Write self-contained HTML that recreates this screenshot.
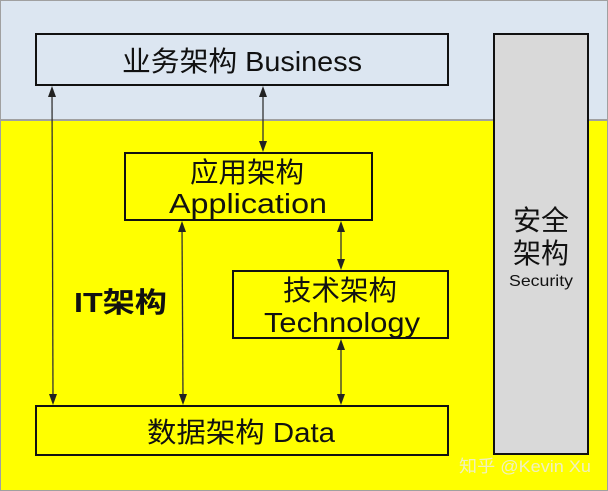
<!DOCTYPE html>
<html><head><meta charset="utf-8"><style>
body{margin:0;width:608px;height:491px;overflow:hidden}
svg{display:block}
text{font-family:"Liberation Sans","Noto Sans CJK SC",sans-serif;fill:#111}
</style></head><body>
<svg width="608" height="491" viewBox="0 0 608 491">
<rect x="0" y="0" width="608" height="491" fill="#ffff00"/>
<rect x="0" y="0" width="608" height="120" fill="#dce6f1"/>
<line x1="0" y1="120" x2="608" y2="120" stroke="#a0a0a0" stroke-width="2"/>
<rect x="0.5" y="0.5" width="607" height="490" fill="none" stroke="#a0a0a0"/>
<rect x="36" y="34" width="412" height="51" fill="#dce6f1" stroke="#111" stroke-width="2"/>
<text x="122" y="71" font-size="28" textLength="240" lengthAdjust="spacingAndGlyphs">业务架构 Business</text>
<rect x="494" y="34" width="94" height="420" fill="#d9d9d9" stroke="#111" stroke-width="2"/>
<text x="513" y="230" font-size="28" textLength="56" lengthAdjust="spacingAndGlyphs">安全</text>
<text x="513" y="263" font-size="28" textLength="56" lengthAdjust="spacingAndGlyphs">架构</text>
<text x="509" y="286" font-size="16" textLength="64" lengthAdjust="spacingAndGlyphs">Security</text>
<rect x="125" y="153" width="247" height="67" fill="#ffff00" stroke="#111" stroke-width="2"/>
<text x="190" y="182" font-size="28" textLength="114" lengthAdjust="spacingAndGlyphs">应用架构</text>
<text x="169" y="213" font-size="28" textLength="158" lengthAdjust="spacingAndGlyphs">Application</text>
<rect x="233" y="271" width="215" height="67" fill="#ffff00" stroke="#111" stroke-width="2"/>
<text x="283" y="300" font-size="28" textLength="114" lengthAdjust="spacingAndGlyphs">技术架构</text>
<text x="264" y="332" font-size="28" textLength="156" lengthAdjust="spacingAndGlyphs">Technology</text>
<rect x="36" y="406" width="412" height="49" fill="#ffff00" stroke="#111" stroke-width="2"/>
<text x="147" y="442" font-size="28" textLength="188" lengthAdjust="spacingAndGlyphs">数据架构 Data</text>
<text x="74" y="312" font-size="28" font-weight="bold" textLength="93" lengthAdjust="spacingAndGlyphs">IT架构</text>
<g stroke="#333" stroke-width="1.3" fill="none">
<line x1="52" y1="90" x2="53" y2="400"/>
<line x1="182" y1="225" x2="183" y2="400"/>
<line x1="263" y1="90" x2="263" y2="147"/>
<line x1="341" y1="225" x2="341" y2="265"/>
<line x1="341" y1="343" x2="341" y2="400"/>
</g>
<g fill="#222">
<polygon points="48,97 52,86 56,97"/><polygon points="49,394 53,405 57,394"/>
<polygon points="178,232 182,221 186,232"/><polygon points="179,394 183,405 187,394"/>
<polygon points="259,97 263,86 267,97"/><polygon points="259,141 263,152 267,141"/>
<polygon points="337,232 341,221 345,232"/><polygon points="337,259 341,270 345,259"/>
<polygon points="337,350 341,339 345,350"/><polygon points="337,394 341,405 345,394"/>
</g>
<text x="459" y="472" font-size="17" textLength="132" lengthAdjust="spacingAndGlyphs" style="fill:#f0f0c0">知乎 @Kevin Xu</text>
</svg>
</body></html>
